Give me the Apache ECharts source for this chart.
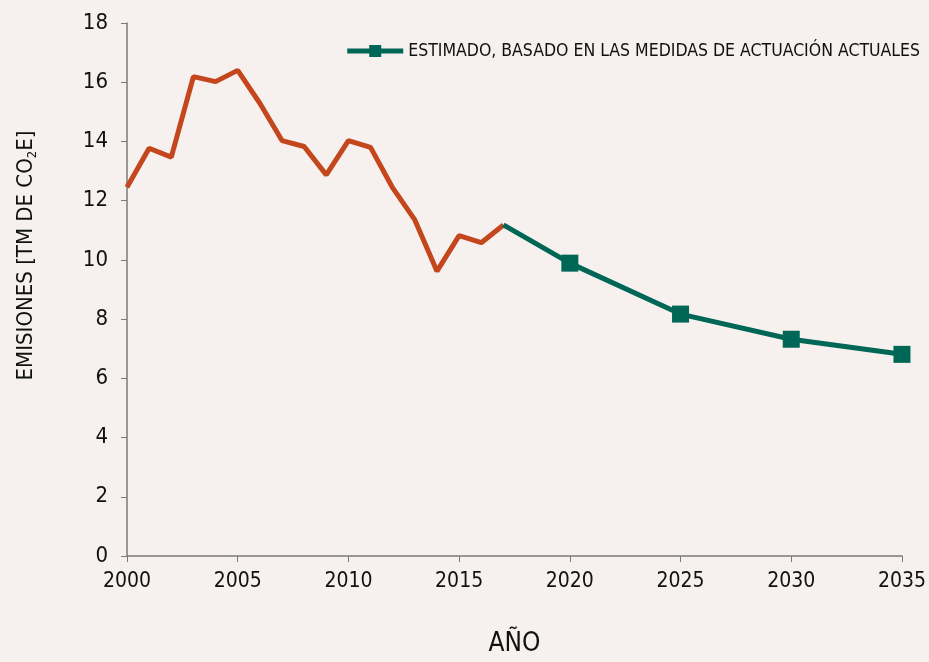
<!DOCTYPE html>
<html>
<head>
<meta charset="utf-8">
<script src="https://cdn.jsdelivr.net/npm/echarts@6/dist/echarts.min.js"></script>
<style>
  html, body { margin: 0; padding: 0; background: #f6f1ee; }
  #chart { width: 929px; height: 662px; }
</style>
</head>
<body>
<div id="chart"></div>
<script>
// historic emissions 2000-2017
var histYears = [2000, 2001, 2002, 2003, 2004, 2005, 2006, 2007, 2008, 2009, 2010, 2011, 2012, 2013, 2014, 2015, 2016, 2017];
var histValues = [12.45, 13.77, 13.47, 16.19, 16.02, 16.4, 15.29, 14.03, 13.83, 12.87, 14.03, 13.8, 12.43, 11.35, 9.62, 10.82, 10.58, 11.18];

// estimate from 2017 on
var estYears = [2017, 2020, 2025, 2030, 2035];
var estValues = [11.18, 9.89, 8.17, 7.32, 6.81];

var legendLabel = 'ESTIMADO, BASADO EN LAS MEDIDAS DE ACTUACIÓN ACTUALES';
var font = '"Liberation Sans Narrow", "DejaVu Sans Condensed", sans-serif';

var histData = histYears.map(function (y, i) { return [y, histValues[i]]; });
var estData = estYears.map(function (y, i) {
    return { value: [y, estValues[i]], symbolSize: i == 0 ? 0 : 17 };
});

var chart = echarts.init(document.getElementById('chart'));
chart.setOption({
    backgroundColor: '#f6f1ee',
    animation: false,
    grid: { left: 127, right: 26, top: 23, bottom: 106 },
    legend: {
        data: [legendLabel],
        right: 4,
        top: 37,
        itemWidth: 56,
        itemHeight: 15,
        itemGap: 16,
        lineStyle: { width: 5 },
        textStyle: { fontFamily: font, fontSize: 17.5, color: '#111' }
    },
    xAxis: {
        type: 'value',
        min: 2000, max: 2035, interval: 5,
        name: 'AÑO',
        nameLocation: 'middle',
        nameGap: 75,
        nameTextStyle: { fontFamily: font, fontSize: 26, color: '#111' },
        axisLine: { lineStyle: { color: '#7a7a7a', width: 1.5 } },
        axisTick: { show: true, length: 6, lineStyle: { color: '#7a7a7a' } },
        axisLabel: { fontFamily: font, fontSize: 21, color: '#111', margin: 15,
            formatter: function (v) { return String(v); } },
        splitLine: { show: false }
    },
    yAxis: {
        type: 'value',
        min: 0, max: 18, interval: 2,
        name: 'EMISIONES [TM DE CO{s|2}E]',
        nameLocation: 'middle',
        nameGap: 88,
        nameTextStyle: { fontFamily: font, fontSize: 22, color: '#111', padding: [0, 0, 0, 68],
            rich: { s: { fontFamily: font, fontSize: 13, color: '#111', padding: [12, 0, 0, 0] } } },
        axisLine: { show: true, lineStyle: { color: '#7a7a7a', width: 1.5 } },
        axisTick: { show: true, length: 6, lineStyle: { color: '#7a7a7a' } },
        axisLabel: { fontFamily: font, fontSize: 22, color: '#111', margin: 19 },
        splitLine: { show: false }
    },
    series: [
        {
            name: 'historico',
            type: 'line',
            data: histData,
            showSymbol: false,
            lineStyle: { color: '#c4461c', width: 5 },
            itemStyle: { color: '#c4461c' }
        },
        {
            name: legendLabel,
            type: 'line',
            data: estData,
            symbol: 'rect',
            symbolSize: 17,
            lineStyle: { color: '#006655', width: 5 },
            itemStyle: { color: '#006655' }
        }
    ]
});
</script>
</body>
</html>
